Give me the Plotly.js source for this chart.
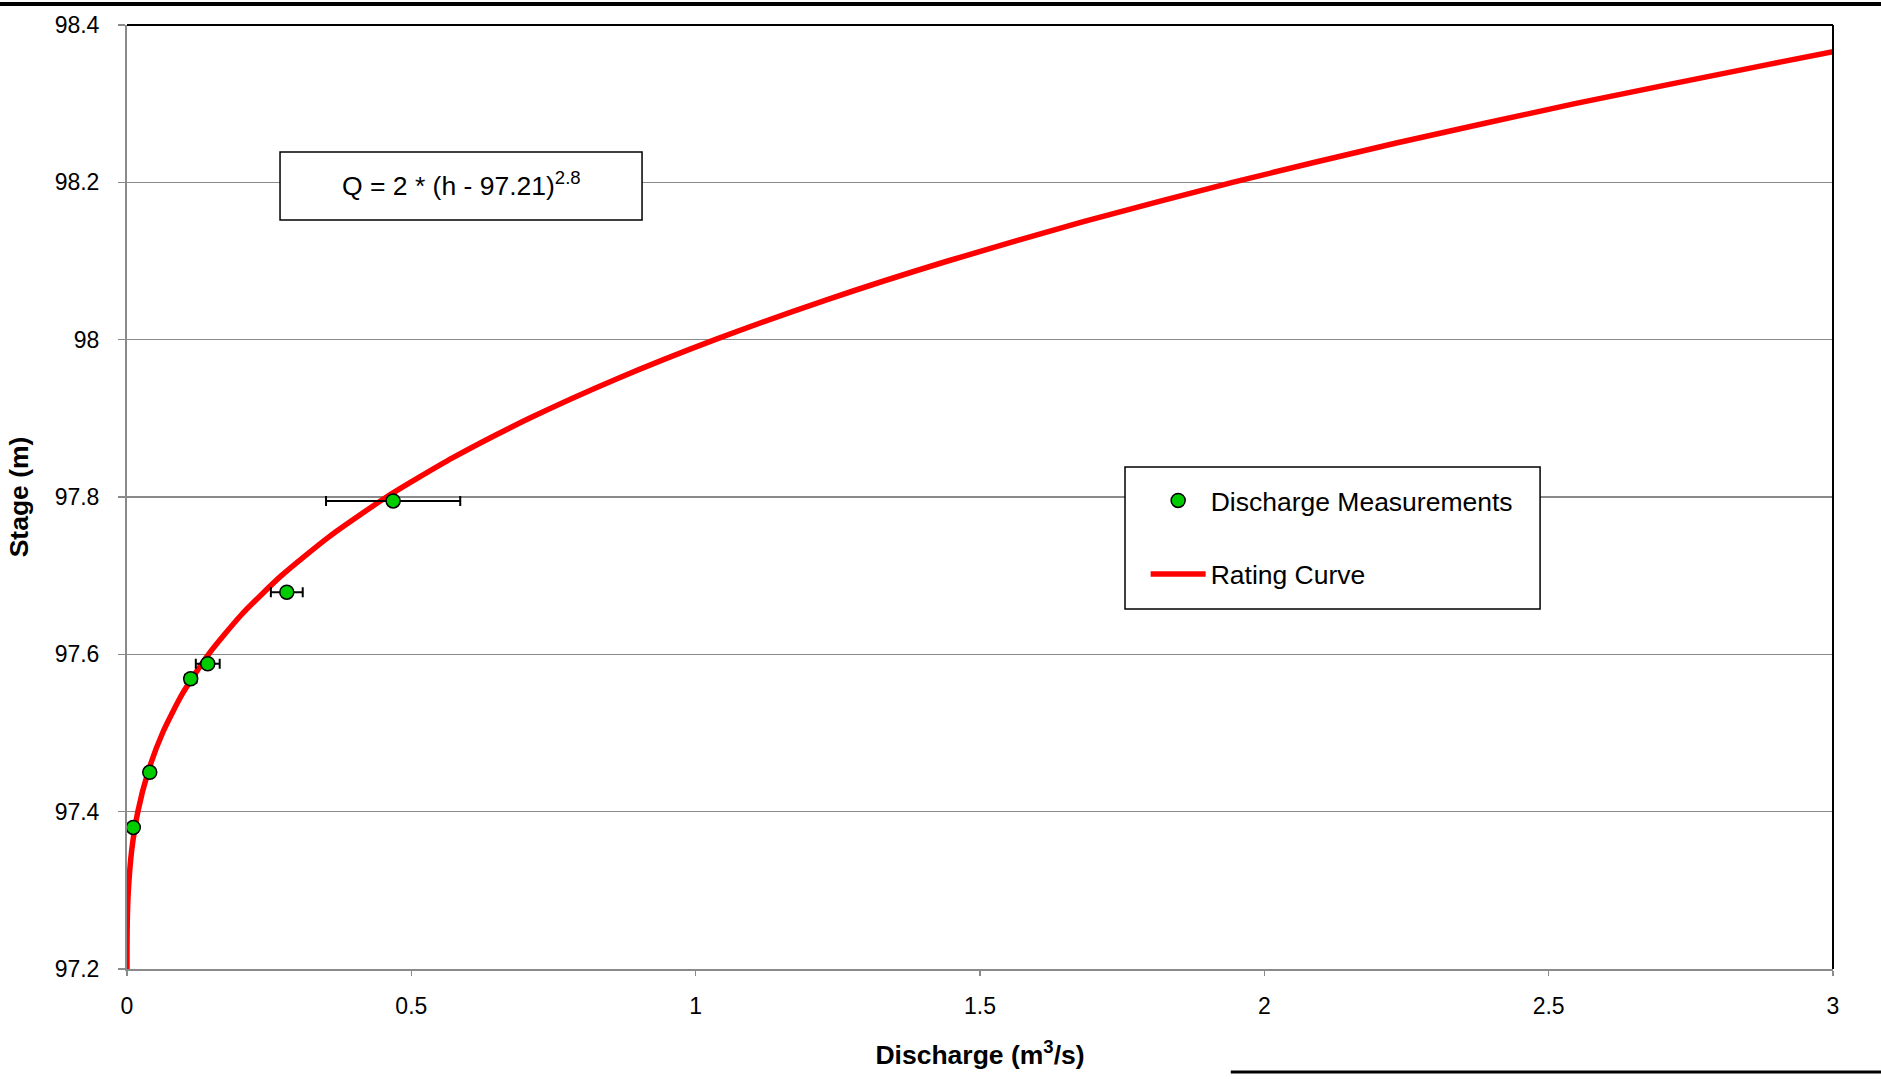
<!DOCTYPE html>
<html>
<head>
<meta charset="utf-8">
<script src="https://cdn.plot.ly/plotly-3.0.1.min.js"></script>
<style>
  html, body { margin: 0; padding: 0; background: #ffffff; }
  #chart { width: 1881px; height: 1079px; }
</style>
</head>
<body>
<div id="chart"></div>
<script>
const measDischarge = [0.011, 0.040, 0.112, 0.142, 0.281, 0.468];
const measStage     = [97.380, 97.450, 97.569, 97.588, 97.679, 97.795];
const measError     = [0.001, 0.003, 0.010, 0.021, 0.028, 0.118];

// ---- Rating curve ----
const curveStage = [97.20, 97.21, 97.23, 97.25, 97.27, 97.30, 97.35, 97.40, 97.45, 97.50,
                    97.55, 97.60, 97.65, 97.70, 97.75, 97.80, 97.85, 97.90, 97.95, 98.00,
                    98.05, 98.10, 98.15, 98.20, 98.25, 98.30, 98.35, 98.366];
const curveDischarge = [0.0, 0.0, 0.00004, 0.00024, 0.00076, 0.0024, 0.0081, 0.0191, 0.0368, 0.0625,
                        0.0975, 0.1433, 0.2008, 0.2715, 0.3563, 0.4564, 0.5731, 0.7076, 0.8608, 1.034,
                        1.2276, 1.4432, 1.6818, 1.944, 2.232, 2.546, 2.887, 3.0];

// ---- Tick labels ----
const xTickVals = [0, 0.5, 1, 1.5, 2, 2.5, 3];
const xTickText = ["0", "0.5", "1", "1.5", "2", "2.5", "3"];
const yTickVals = [97.2, 97.4, 97.6, 97.8, 98.0, 98.2, 98.4];
const yTickText = ["97.2", "97.4", "97.6", "97.8", "98", "98.2", "98.4"];

// ---- Texts ----
const seriesNames = ["Discharge Measurements", "Rating Curve"];
const equationText = "Q = 2 * (h - 97.21)<sup>2.8</sup>";
const xTitle = "Discharge (m<sup>3</sup>/s)";
const yTitle = "Stage (m)";

const FONT = "Liberation Sans, Arial, Helvetica, sans-serif";
const GRID = "#8a8a8a";

const curveTrace = {
  type: "scatter",
  mode: "lines",
  name: seriesNames[1],
  x: curveDischarge,
  y: curveStage,
  line: { color: "#ff0000", width: 5.5, shape: "spline", smoothing: 0.6 },
  legendrank: 2,
  legendgroup: "b",
  hoverinfo: "skip"
};

const measTrace = {
  type: "scatter",
  mode: "markers",
  name: seriesNames[0],
  x: measDischarge,
  y: measStage,
  marker: { color: "#00cc00", size: 14, line: { color: "#000000", width: 1.5 } },
  error_x: { type: "data", array: measError, visible: true, color: "#000000", thickness: 2, width: 5 },
  legendrank: 1,
  legendgroup: "a"
};

const layout = {
  width: 1881,
  height: 1079,
  margin: { l: 127, r: 48, t: 25, b: 110, autoexpand: false },
  paper_bgcolor: "#ffffff",
  plot_bgcolor: "#ffffff",
  font: { family: FONT, color: "#000000", size: 23 },
  showlegend: true,
  legend: {
    x: 0.5971, y: 0.5215, xanchor: "left", yanchor: "top",
    bgcolor: "rgba(0,0,0,0)",
    borderwidth: 0,
    font: { family: FONT, size: 26.5, color: "#000000" },
    itemwidth: 55,
    traceorder: "grouped",
    tracegroupgap: 36
  },
  xaxis: {
    range: [0, 3],
    tickvals: xTickVals,
    ticktext: xTickText,
    showgrid: false,
    zeroline: false,
    showline: true,
    linecolor: GRID,
    linewidth: 2,
    ticks: "outside",
    ticklen: 5,
    tickwidth: 1.5,
    tickcolor: GRID,
    ticklabelstandoff: 10,
    tickfont: { family: FONT, size: 23, color: "#000000" },
    title: { text: xTitle, font: { family: FONT, size: 26.5, color: "#000000", weight: "bold" }, standoff: 28 },
    layer: "below traces",
    fixedrange: true
  },
  yaxis: {
    range: [97.2, 98.4],
    tickvals: yTickVals,
    ticktext: yTickText,
    showgrid: true,
    gridcolor: GRID,
    gridwidth: 1.5,
    zeroline: false,
    showline: true,
    linecolor: GRID,
    linewidth: 2,
    ticks: "outside",
    ticklen: 7,
    tickwidth: 1.5,
    tickcolor: GRID,
    ticklabelstandoff: 14,
    tickfont: { family: FONT, size: 23, color: "#000000" },
    title: { text: yTitle, font: { family: FONT, size: 26.5, color: "#000000", weight: "bold" }, standoff: 18 },
    layer: "below traces",
    fixedrange: true
  },
  shapes: [
    // black top and right frame of the plot area
    { type: "line", xref: "paper", yref: "paper", x0: 0, x1: 1, y0: 1, y1: 1, line: { color: "#000000", width: 2 } },
    { type: "line", xref: "paper", yref: "paper", x0: 1, x1: 1, y0: 0, y1: 1, line: { color: "#000000", width: 2 } },
    // equation box
    { type: "rect", xref: "paper", yref: "paper", x0: 0.0897, x1: 0.3019, y0: 0.7934, y1: 0.8655,
      fillcolor: "#ffffff", line: { color: "#000000", width: 1.5 }, layer: "above" },
    // legend box
    { type: "rect", xref: "paper", yref: "paper", x0: 0.585, x1: 0.8283, y0: 0.3814, y1: 0.5318,
      fillcolor: "#ffffff", line: { color: "#000000", width: 1.5 }, layer: "above" },
    // page rules outside the chart
    { type: "line", xref: "paper", yref: "paper", x0: -0.0745, x1: 1.0282, y0: 1.0222, y1: 1.0222, line: { color: "#000000", width: 4 } },
    { type: "line", xref: "paper", yref: "paper", x0: 0.647, x1: 1.0282, y0: -0.1091, y1: -0.1091, line: { color: "#000000", width: 3 } }
  ],
  annotations: [
    { xref: "paper", yref: "paper", x: 0.1958, y: 0.832, xanchor: "center", yanchor: "middle",
      text: equationText, showarrow: false, font: { family: FONT, size: 26.5, color: "#000000" } }
  ]
};

Plotly.newPlot("chart", [curveTrace, measTrace], layout, { displayModeBar: false, staticPlot: true });
</script>
</body>
</html>
